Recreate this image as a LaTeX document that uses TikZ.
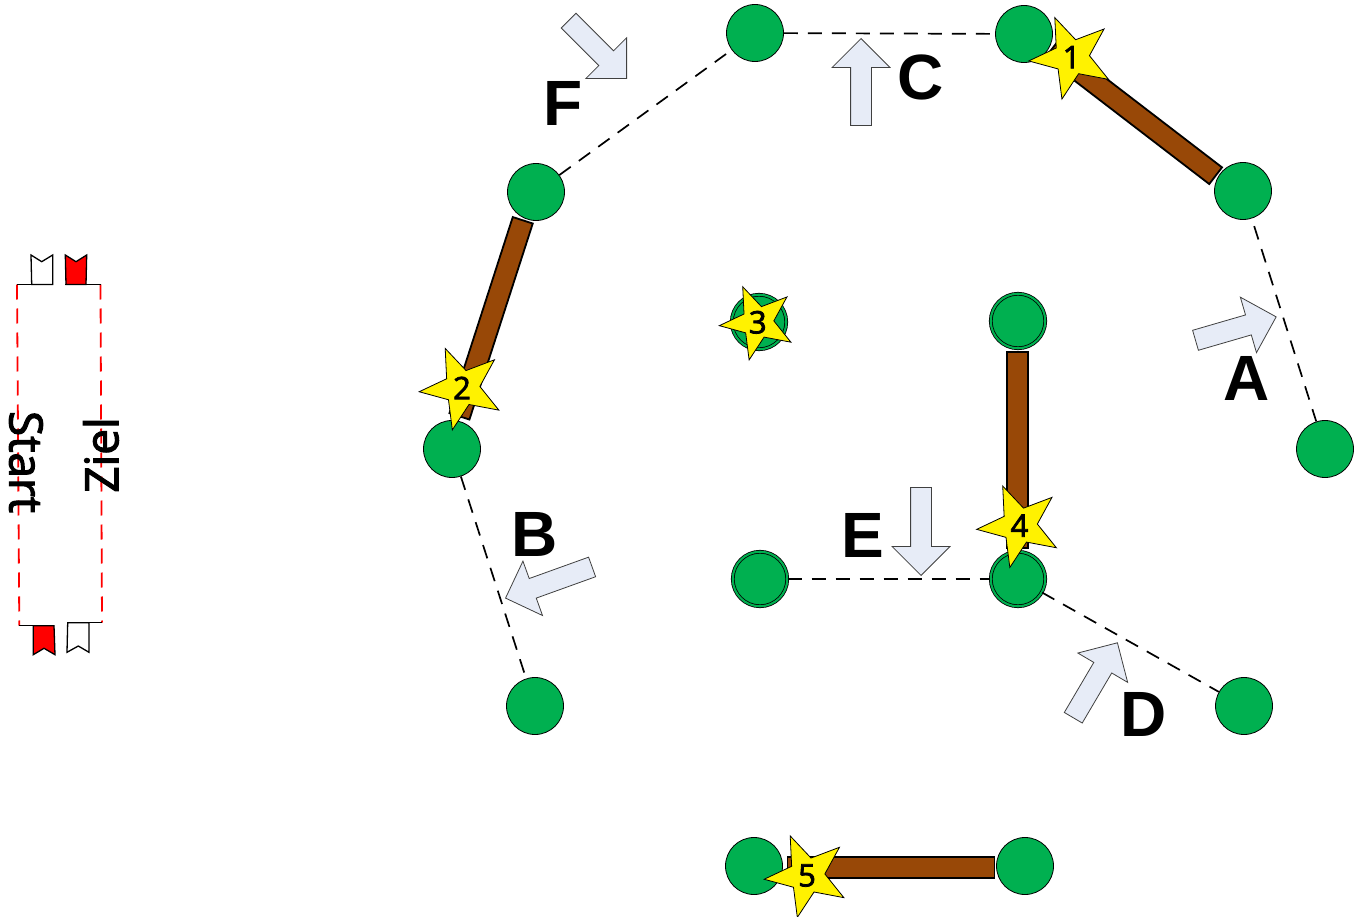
\documentclass[tikz,border=0pt]{standalone}
\usepackage{fontspec}
\setmainfont{Liberation Sans}
\newfontfamily\thinfont[FakeBold=2.5]{Open Sans}
\usetikzlibrary{shapes.geometric,shapes.arrows}
\definecolor{knotgreen}{RGB}{0,176,80}
\definecolor{beambrown}{RGB}{152,72,7}
\definecolor{arrowblue}{RGB}{231,236,247}
\tikzset{
    knot/.style={circle, draw, line width=0.8pt, fill=knotgreen, minimum size=57pt, inner sep=0pt},
    doubleknot/.style={circle, draw, line width=0.8pt, fill=knotgreen, double=knotgreen, double distance=2.1pt, minimum size=54.5pt, inner sep=0pt},
    beam/.style={rectangle, draw, line width=1.8pt, fill=beambrown, minimum height=21pt, inner sep=0pt},
    path/.style={draw, dash pattern=on 14pt off 10pt, line width=1.7pt},
    stop/.style={star, star points=5, star point ratio=2.4, draw, line width=0.8pt, fill=yellow, minimum size=86pt, inner sep=0pt, shape border rotate=23, font=\thinfont\fontsize{31}{31}\selectfont},
    move/.style={single arrow, draw=black!75, line width=0.8pt, fill=arrowblue, minimum height=85pt, single arrow head extend=18.5pt, inner xsep=0pt, inner ysep=10pt, anchor=tip},
    letter/.style={font=\fontsize{64}{64}\selectfont\bfseries, inner sep=0pt},
    sidetext/.style={font=\thinfont\fontsize{46}{46}\selectfont, inner sep=0pt},
    flag/.style={draw, line width=1.3pt, fill=white},
    redflag/.style={draw, line width=1.3pt, fill=red},
    course/.style={draw=red, dash pattern=on 15pt off 9pt, line width=1.8pt}
}
\begin{document}
\begin{tikzpicture}[x=1pt,y=-1pt]
        \useasboundingbox (0,0) rectangle (1362,917);
        % start and finish
        \coordinate (starttop) at (17,284.5);
        \coordinate (startbot) at (19.3,625.7);
        \coordinate (zieltop) at (100.5,284.5);
        \coordinate (zielbot) at (102,622.7);
        \draw[course] (starttop) -- (startbot);
        \draw[course] (zieltop) -- (zielbot);
        \draw[line width=1.3pt] (starttop) -- (52.7,284.5);
        \draw[line width=1.3pt] (65.3,284.5) -- (zieltop);
        \draw[line width=1.3pt] (startbot) -- (54,625.7);
        \draw[line width=1.3pt] (67.7,622.7) -- (zielbot);
        \draw[flag] (31,255) -- (41.7,261.7) -- (52.7,255) -- (52.7,284.5) -- (31.7,284.5) -- cycle;
        \draw[redflag] (65.3,255) -- (76,261.7) -- (86.7,255) -- (86,284.5) -- (66,284.5) -- cycle;
        \draw[redflag] (33.3,625.7) -- (54,625.7) -- (55,654.7) -- (44,648.3) -- (33.3,654.7) -- cycle;
        \draw[flag] (67.7,622.7) -- (89,622.7) -- (89,652.3) -- (78.3,646) -- (67,652.3) -- cycle;
        \node[sidetext, rotate=-90] (start) at (26,462) {Start};
        \node[sidetext, rotate=90] (ziel) at (101,455) {Ziel};
        % beams
        \node[beam, minimum width=207pt, rotate=-37.5] (beamone) at (1133.5,112.7) {};
        \node[beam, minimum width=206pt, rotate=72.1] (beamtwo) at (491.1,318.3) {};
        \node[beam, minimum width=196pt, rotate=90] (beamfour) at (1017.5,449.7) {};
        \node[beam, minimum width=207pt] (beamfive) at (891,867.3) {};
        % knots
        \node[knot] (ftop) at (755,33) {};
        \node[knot] (ctop) at (1024,34) {};
        \node[knot] (aup) at (1243,191) {};
        \node[knot] (alow) at (1325,449) {};
        \node[knot] (fleft) at (536,192) {};
        \node[knot] (bup) at (452,449) {};
        \node[knot] (blow) at (535,706) {};
        \node[doubleknot] (eleft) at (760,579) {};
        \node[doubleknot] (eright) at (1018,579) {};
        \node[knot] (dlow) at (1244,706) {};
        \node[doubleknot] (midright) at (1018,321) {};
        \node[doubleknot] (midleft) at (759,322) {};
        \node[knot] (lowleft) at (754,866) {};
        \node[knot] (lowright) at (1025,866) {};
        % dashed ways
        \draw[path] (ftop) -- (ctop);
        \draw[path] (fleft) -- (ftop);
        \draw[path, shorten <=8pt] (aup) -- (alow);
        \draw[path, shorten >=5pt] (bup) -- (blow);
        \draw[path] (eleft) -- (eright);
        \draw[path] (eright) -- (dlow);
        % arrows
        \node[move, minimum height=84pt, rotate=16.2] (arrowa) at (1276.7,316.7) {};
        \node[move, minimum height=92pt, rotate=199.8] (arrowb) at (505,598.3) {};
        \node[move, minimum height=87pt, rotate=90] (arrowc) at (861,38) {};
        \node[move, minimum height=87pt, rotate=59.5] (arrowd) at (1117.7,642.3) {};
        \node[move, minimum height=88pt, rotate=-90] (arrowe) at (921,576) {};
        \node[move, minimum height=82pt, rotate=-45] (arrowf) at (627,79) {};
        % letters
        \node[letter] (laba) at (1247,378) {A};
        \node[letter] (labb) at (534.5,534) {B};
        \node[letter] (labc) at (920.5,77) {C};
        \node[letter] (labd) at (1143.5,714) {D};
        \node[letter] (labe) at (862.5,535) {E};
        \node[letter] (labf) at (563,103) {F};
        % stars
        \node[stop] (stopone) at (1071.6,57.2) {1};
        \node[stop] (stoptwo) at (462,388) {2};
        \node[stop, minimum size=77pt] (stopthree) at (757.8,322.3) {3};
        \node[stop] (stopfour) at (1019.5,525.6) {4};
        \node[stop] (stopfive) at (807,875.5) {5};
\end{tikzpicture}
\end{document}
